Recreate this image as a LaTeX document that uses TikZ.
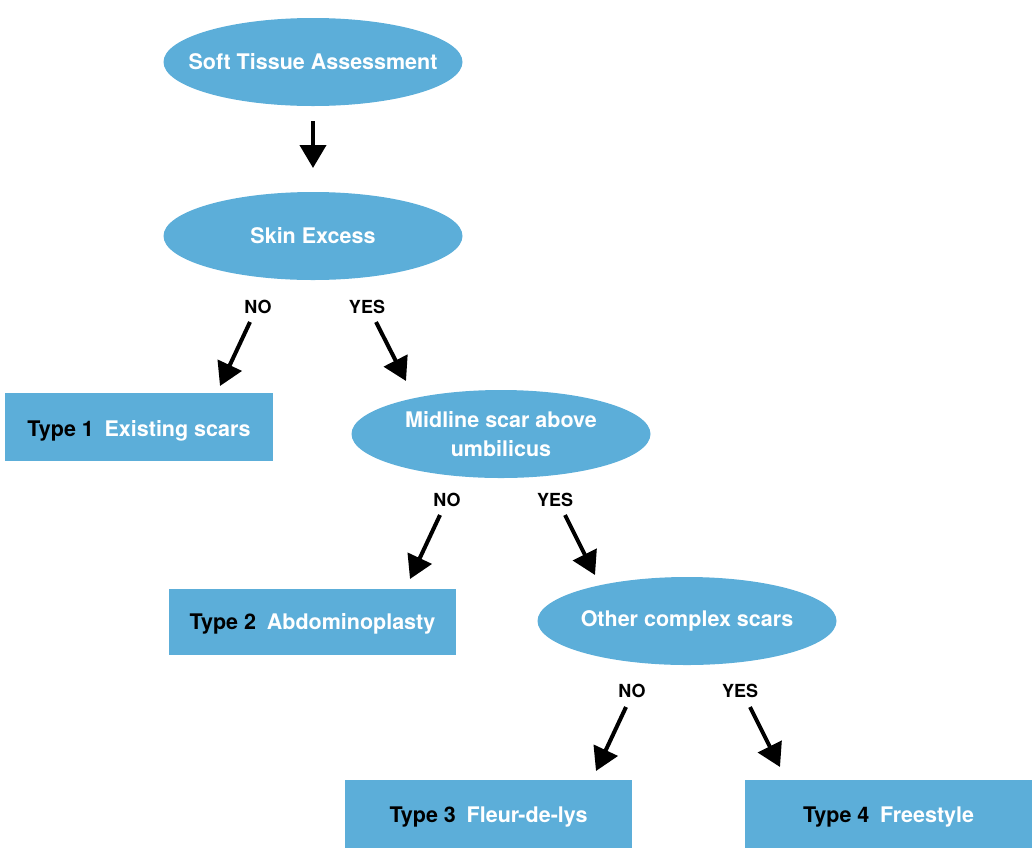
\documentclass[tikz,border=0pt]{standalone}
\usepackage{fontspec}
\setmainfont{TeX Gyre Heros}
\usetikzlibrary{shapes.geometric,arrows.meta}
\definecolor{boxblue}{RGB}{92,174,217}
\newcommand{\typetxt}[2]{\textcolor{black}{#1}\hspace{0.5em}\textcolor{white}{#2}}
\begin{document}
\begin{tikzpicture}[x=1pt,y=-1pt,
  oval/.style={ellipse,fill=boxblue,minimum width=299pt,minimum height=88pt,inner sep=0pt,
    label={[text=white,font=\fontsize{21.5}{26}\selectfont\bfseries,align=center]center:#1}},
  tbox/.style={rectangle,fill=boxblue,inner sep=0pt},
  tlab/.style={font=\fontsize{21.5}{26}\selectfont\bfseries,inner sep=0pt},
  lbl/.style={font=\fontsize{18}{21}\selectfont\bfseries,inner sep=0pt},
  arr/.style={line width=4pt,-{Triangle[length=23pt,width=26pt]}}]
\useasboundingbox (0,0) rectangle (1032,847);
\begin{scope}
\clip (0,0) rectangle (1032,847);
\node[oval={Soft Tissue Assessment}] (sta) at (313,62) {};
\node[oval={Skin Excess}] (ske) at (313,236) {};
\node[oval={Midline scar above\\[3pt]umbilicus}] (mid) at (501,434) {};
\node[oval={Other complex scars}] (ocs) at (687,621) {};
\node[tbox,minimum width=268pt,minimum height=68pt,
  label={[tlab,yshift=-4pt]center:\typetxt{Type 1}{Existing scars}}] (t1) at (139,427) {};
\node[tbox,minimum width=287pt,minimum height=66pt,
  label={[tlab,yshift=-2pt]center:\typetxt{Type 2}{Abdominoplasty}}] (t2) at (312.5,622) {};
\node[tbox,minimum width=287pt,minimum height=80pt,
  label={[tlab,yshift=3pt]center:\typetxt{Type 3}{Fleur-de-lys}}] (t3) at (488.5,820) {};
\node[tbox,minimum width=287pt,minimum height=80pt,
  label={[tlab,yshift=3pt]center:\typetxt{Type 4}{Freestyle}}] (t4) at (888.5,820) {};
\end{scope}
\node[lbl] (n1) at (258,307) {NO};
\node[lbl] (y1) at (367,307) {YES};
\node[lbl] (n2) at (447,500) {NO};
\node[lbl] (y2) at (555,500) {YES};
\node[lbl] (n3) at (632,691) {NO};
\node[lbl] (y3) at (740,691) {YES};
% arrow endpoints
\coordinate (a0s) at (313,121); \coordinate (a0e) at (313,168);
\coordinate (a1s) at (250,322); \coordinate (a1e) at (220,386);
\coordinate (b1s) at (376,322); \coordinate (b1e) at (406,381);
\coordinate (a2s) at (440,515); \coordinate (a2e) at (410,579);
\coordinate (b2s) at (565,515); \coordinate (b2e) at (595,575);
\coordinate (a3s) at (626,707); \coordinate (a3e) at (596,771);
\coordinate (b3s) at (750,707); \coordinate (b3e) at (780,767);
\draw[arr] (a0s) -- (a0e);
\draw[arr] (a1s) -- (a1e);
\draw[arr] (b1s) -- (b1e);
\draw[arr] (a2s) -- (a2e);
\draw[arr] (b2s) -- (b2e);
\draw[arr] (a3s) -- (a3e);
\draw[arr] (b3s) -- (b3e);
\end{tikzpicture}
\end{document}
